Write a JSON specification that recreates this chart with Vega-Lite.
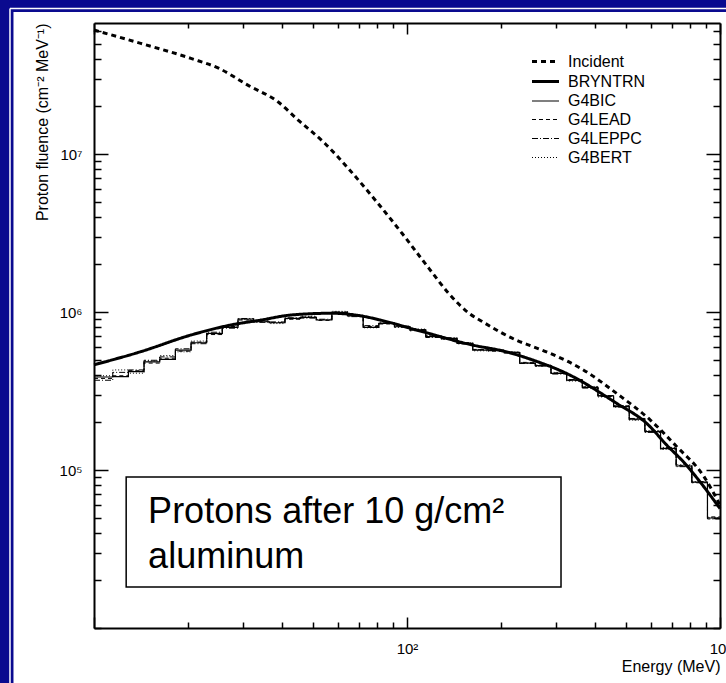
{
  "$schema": "https://vega.github.io/schema/vega-lite/v6.json",
  "width": 626,
  "height": 605,
  "autosize": {"type": "none"},
  "padding": {"left": 94, "top": 23, "right": 6, "bottom": 55},
  "background": "#0a0a8f",
  "datasets": {
    "smooth": [
      {"series": "Incident", "E": 10, "F": 60900000},
      {"series": "Incident", "E": 14.1, "F": 50200000},
      {"series": "Incident", "E": 20.4, "F": 40300000},
      {"series": "Incident", "E": 25.1, "F": 34800000},
      {"series": "Incident", "E": 31, "F": 27300000},
      {"series": "Incident", "E": 38.7, "F": 21400000},
      {"series": "Incident", "E": 44.9, "F": 16400000},
      {"series": "Incident", "E": 54.6, "F": 11700000},
      {"series": "Incident", "E": 64.9, "F": 8110000},
      {"series": "Incident", "E": 79.1, "F": 5120000},
      {"series": "Incident", "E": 96.4, "F": 3150000},
      {"series": "Incident", "E": 117.5, "F": 1890000},
      {"series": "Incident", "E": 136, "F": 1310000},
      {"series": "Incident", "E": 158, "F": 980000},
      {"series": "Incident", "E": 174, "F": 870000},
      {"series": "Incident", "E": 223, "F": 665000},
      {"series": "Incident", "E": 252, "F": 605000},
      {"series": "Incident", "E": 286, "F": 548000},
      {"series": "Incident", "E": 366, "F": 430000},
      {"series": "Incident", "E": 468, "F": 305000},
      {"series": "Incident", "E": 599, "F": 207000},
      {"series": "Incident", "E": 729, "F": 140000},
      {"series": "Incident", "E": 889, "F": 90800},
      {"series": "Incident", "E": 1000, "F": 60000},
      {"series": "BRYNTRN", "E": 10, "F": 463000},
      {"series": "BRYNTRN", "E": 14.1, "F": 561000},
      {"series": "BRYNTRN", "E": 20.4, "F": 715000},
      {"series": "BRYNTRN", "E": 27.3, "F": 827000},
      {"series": "BRYNTRN", "E": 34.2, "F": 890000},
      {"series": "BRYNTRN", "E": 42.7, "F": 958000},
      {"series": "BRYNTRN", "E": 57.4, "F": 982000},
      {"series": "BRYNTRN", "E": 71.6, "F": 944000},
      {"series": "BRYNTRN", "E": 83, "F": 885000},
      {"series": "BRYNTRN", "E": 106, "F": 775000},
      {"series": "BRYNTRN", "E": 162, "F": 618000},
      {"series": "BRYNTRN", "E": 207, "F": 561000},
      {"series": "BRYNTRN", "E": 252, "F": 497000},
      {"series": "BRYNTRN", "E": 323, "F": 409000},
      {"series": "BRYNTRN", "E": 468, "F": 264000},
      {"series": "BRYNTRN", "E": 582, "F": 198000},
      {"series": "BRYNTRN", "E": 680, "F": 142000},
      {"series": "BRYNTRN", "E": 766, "F": 112000},
      {"series": "BRYNTRN", "E": 860, "F": 85000},
      {"series": "BRYNTRN", "E": 1000, "F": 57000}
    ],
    "hist": [
      {"E": 10, "G4BIC": 388000, "G4LEAD": 380000, "G4LEPPC": 370000, "G4BERT": 395000},
      {"E": 11.48, "G4BIC": 390000, "G4LEAD": 395000, "G4LEPPC": 415000, "G4BERT": 430000},
      {"E": 12.88, "G4BIC": 419000, "G4LEAD": 425000, "G4LEPPC": 430000, "G4BERT": 410000},
      {"E": 14.45, "G4BIC": 484000, "G4LEAD": 475000, "G4LEPPC": 495000, "G4BERT": 490000},
      {"E": 16.22, "G4BIC": 502000, "G4LEAD": 510000, "G4LEPPC": 520000, "G4BERT": 530000},
      {"E": 18.2, "G4BIC": 574000, "G4LEAD": 565000, "G4LEPPC": 585000, "G4BERT": 560000},
      {"E": 20.42, "G4BIC": 639000, "G4LEAD": 645000, "G4LEPPC": 630000, "G4BERT": 655000},
      {"E": 22.91, "G4BIC": 733000, "G4LEAD": 720000, "G4LEPPC": 745000, "G4BERT": 725000},
      {"E": 25.7, "G4BIC": 800000, "G4LEAD": 810000, "G4LEPPC": 790000, "G4BERT": 815000},
      {"E": 28.84, "G4BIC": 903000, "G4LEAD": 890000, "G4LEPPC": 910000, "G4BERT": 895000},
      {"E": 32.36, "G4BIC": 868000, "G4LEAD": 875000, "G4LEPPC": 860000, "G4BERT": 880000},
      {"E": 36.31, "G4BIC": 855000, "G4LEAD": 860000, "G4LEPPC": 865000, "G4BERT": 845000},
      {"E": 40.74, "G4BIC": 912000, "G4LEAD": 900000, "G4LEPPC": 920000, "G4BERT": 905000},
      {"E": 45.71, "G4BIC": 925000, "G4LEAD": 930000, "G4LEPPC": 915000, "G4BERT": 940000},
      {"E": 51.29, "G4BIC": 890000, "G4LEAD": 885000, "G4LEPPC": 900000, "G4BERT": 895000},
      {"E": 57.54, "G4BIC": 995000, "G4LEAD": 985000, "G4LEPPC": 1000000, "G4BERT": 1010000},
      {"E": 64.57, "G4BIC": 944000, "G4LEAD": 950000, "G4LEPPC": 935000, "G4BERT": 955000},
      {"E": 72.44, "G4BIC": 800000, "G4LEAD": 810000, "G4LEPPC": 820000, "G4BERT": 795000},
      {"E": 81.28, "G4BIC": 848000, "G4LEAD": 840000, "G4LEPPC": 855000, "G4BERT": 860000},
      {"E": 91.2, "G4BIC": 807000, "G4LEAD": 815000, "G4LEPPC": 800000, "G4BERT": 810000},
      {"E": 102.3, "G4BIC": 769000, "G4LEAD": 760000, "G4LEPPC": 775000, "G4BERT": 780000},
      {"E": 114.8, "G4BIC": 698000, "G4LEAD": 705000, "G4LEPPC": 690000, "G4BERT": 710000},
      {"E": 128.8, "G4BIC": 682000, "G4LEAD": 675000, "G4LEPPC": 688000, "G4BERT": 670000},
      {"E": 144.5, "G4BIC": 634000, "G4LEAD": 640000, "G4LEPPC": 628000, "G4BERT": 638000},
      {"E": 162.2, "G4BIC": 574000, "G4LEAD": 580000, "G4LEPPC": 578000, "G4BERT": 568000},
      {"E": 182, "G4BIC": 570000, "G4LEAD": 565000, "G4LEPPC": 575000, "G4BERT": 572000},
      {"E": 204.2, "G4BIC": 554000, "G4LEAD": 550000, "G4LEPPC": 558000, "G4BERT": 562000},
      {"E": 229.1, "G4BIC": 475000, "G4LEAD": 480000, "G4LEPPC": 472000, "G4BERT": 478000},
      {"E": 257, "G4BIC": 458000, "G4LEAD": 455000, "G4LEPPC": 462000, "G4BERT": 452000},
      {"E": 288.4, "G4BIC": 409000, "G4LEAD": 412000, "G4LEPPC": 405000, "G4BERT": 415000},
      {"E": 323.6, "G4BIC": 371000, "G4LEAD": 368000, "G4LEPPC": 374000, "G4BERT": 366000},
      {"E": 363.1, "G4BIC": 333000, "G4LEAD": 335000, "G4LEPPC": 330000, "G4BERT": 338000},
      {"E": 407.4, "G4BIC": 294000, "G4LEAD": 292000, "G4LEPPC": 296000, "G4BERT": 290000},
      {"E": 457.1, "G4BIC": 252000, "G4LEAD": 255000, "G4LEPPC": 250000, "G4BERT": 256000},
      {"E": 512.9, "G4BIC": 210000, "G4LEAD": 208000, "G4LEPPC": 212000, "G4BERT": 207000},
      {"E": 575.4, "G4BIC": 175000, "G4LEAD": 176000, "G4LEPPC": 173000, "G4BERT": 178000},
      {"E": 645.7, "G4BIC": 137000, "G4LEAD": 136000, "G4LEPPC": 139000, "G4BERT": 135000},
      {"E": 724.4, "G4BIC": 106000, "G4LEAD": 107000, "G4LEPPC": 105000, "G4BERT": 108000},
      {"E": 812.8, "G4BIC": 83900, "G4LEAD": 83000, "G4LEPPC": 84500, "G4BERT": 83500},
      {"E": 912, "G4BIC": 49700, "G4LEAD": 50500, "G4LEPPC": 49000, "G4BERT": 50000},
      {"E": 1000, "G4BIC": 49700, "G4LEAD": 50500, "G4LEPPC": 49000, "G4BERT": 50000}
    ]
  },
  "resolve": {"axis": {"x": "independent", "y": "independent"}},
  "layer": [
    {
      "data": {"values": [{}]},
      "mark": {"type": "rect", "fill": "white", "strokeWidth": 0},
      "encoding": {
        "x": {"datum": 5.53, "type": "quantitative", "scale": {"type": "log", "domain": [10, 1000], "nice": false}, "axis": null},
        "x2": {"datum": 3000},
        "y": {"datum": 79300000, "type": "quantitative", "scale": {"type": "log", "domain": [10000, 67500000], "nice": false}, "axis": null},
        "y2": {"datum": 1000}
      }
    },
    {
      "data": {"values": [{}]},
      "mark": {"type": "rule", "color": "white", "strokeWidth": 1.5},
      "encoding": {
        "x": {"datum": 5.39, "type": "quantitative", "scale": {"type": "log", "domain": [10, 1000], "nice": false}, "axis": null},
        "y": {"datum": 83400000, "type": "quantitative", "scale": {"type": "log", "domain": [10000, 67500000], "nice": false}, "axis": null},
        "y2": {"datum": 1000}
      }
    },
    {
      "data": {"values": [{}]},
      "mark": {"type": "rule", "color": "white", "strokeWidth": 1.5},
      "encoding": {
        "x": {"datum": 5.39, "type": "quantitative", "scale": {"type": "log", "domain": [10, 1000], "nice": false}, "axis": null},
        "x2": {"datum": 3000},
        "y": {"datum": 83400000, "type": "quantitative", "scale": {"type": "log", "domain": [10000, 67500000], "nice": false}, "axis": null}
      }
    },
    {
      "data": {"values": [{}]},
      "mark": {"type": "rect", "fill": "white", "stroke": "black", "strokeWidth": 1.5},
      "encoding": {
        "x": {"datum": 12.67, "type": "quantitative", "scale": {"type": "log", "domain": [10, 1000], "nice": false}, "axis": null},
        "x2": {"datum": 310.5},
        "y": {"datum": 90400, "type": "quantitative", "scale": {"type": "log", "domain": [10000, 67500000], "nice": false}, "axis": null},
        "y2": {"datum": 18200}
      }
    },
    {
      "data": {"values": [{"label": ["Protons after 10 g/cm²", "aluminum"]}]},
      "mark": {"type": "text", "align": "left", "baseline": "alphabetic", "fontSize": 36, "lineHeight": 45, "color": "black", "font": "Liberation Sans"},
      "encoding": {
        "x": {"datum": 14.89, "type": "quantitative", "scale": {"type": "log", "domain": [10, 1000], "nice": false}, "axis": null},
        "y": {"datum": 46200, "type": "quantitative", "scale": {"type": "log", "domain": [10000, 67500000], "nice": false}, "axis": null},
        "text": {"field": "label"}
      }
    },
    {
      "data": {"name": "hist"},
      "transform": [{"fold": ["G4BIC", "G4LEAD", "G4LEPPC", "G4BERT"], "as": ["series", "F"]}],
      "mark": {"type": "line", "interpolate": "step-after", "color": "black"},
      "encoding": {
        "x": {
          "field": "E", "type": "quantitative",
          "scale": {"type": "log", "domain": [10, 1000], "nice": false},
          "axis": {
            "orient": "top", "labels": false, "title": null, "zindex": 2,
            "values": [10, 20, 30, 40, 50, 60, 70, 80, 90, 100, 200, 300, 400, 500, 600, 700, 800, 900, 1000],
            "tickSize": {"condition": {"test": "datum.value == 10 || datum.value == 100 || datum.value == 1000", "value": -11}, "value": -5}
          }
        },
        "y": {
          "field": "F", "type": "quantitative",
          "scale": {"type": "log", "domain": [10000, 67500000], "nice": false},
          "axis": {
            "orient": "right", "labels": false, "title": null, "zindex": 2,
            "values": [10000, 20000, 30000, 40000, 50000, 60000, 70000, 80000, 90000, 100000, 200000, 300000, 400000, 500000, 600000, 700000, 800000, 900000, 1000000, 2000000, 3000000, 4000000, 5000000, 6000000, 7000000, 8000000, 9000000, 10000000, 20000000, 30000000, 40000000, 50000000, 60000000],
            "tickSize": {"condition": {"test": "datum.value == 100000 || datum.value == 1000000 || datum.value == 10000000", "value": -14}, "value": -7}
          }
        },
        "strokeDash": {
          "field": "series", "type": "nominal",
          "scale": {"domain": ["Incident", "BRYNTRN", "G4BIC", "G4LEAD", "G4LEPPC", "G4BERT"], "range": [[5, 4], [1, 0], [1, 0], [4, 3], [6, 2, 1, 2], [1, 2]]},
          "legend": {"title": null, "orient": "none", "legendX": 440, "legendY": 27, "symbolType": "M-1.35,0H1.35", "symbolSize": 400}
        },
        "strokeWidth": {
          "field": "series", "type": "nominal",
          "scale": {"type": "ordinal", "domain": ["Incident", "BRYNTRN", "G4BIC", "G4LEAD", "G4LEPPC", "G4BERT"], "range": [3, 3, 1.2, 1, 1, 1]},
          "legend": {"title": null, "orient": "none", "legendX": 440, "legendY": 27, "symbolType": "M-1.35,0H1.35", "symbolSize": 400}
        }
      }
    },
    {
      "data": {"name": "smooth"},
      "mark": {"type": "line", "interpolate": "monotone", "color": "black"},
      "encoding": {
        "x": {
          "field": "E", "type": "quantitative",
          "scale": {"type": "log", "domain": [10, 1000], "nice": false},
          "axis": {
            "orient": "bottom", "zindex": 2,
            "values": [10, 20, 30, 40, 50, 60, 70, 80, 90, 100, 200, 300, 400, 500, 600, 700, 800, 900, 1000],
            "labelExpr": "datum.value == 100 ? '10²' : datum.value == 1000 ? '10³' : ''",
            "tickSize": {"condition": {"test": "datum.value == 10 || datum.value == 100 || datum.value == 1000", "value": -11}, "value": -6},
            "labelPadding": 24,
            "title": "Energy (MeV)",
            "titleAnchor": "end",
            "titlePadding": -3
          }
        },
        "y": {
          "field": "F", "type": "quantitative",
          "scale": {"type": "log", "domain": [10000, 67500000], "nice": false},
          "axis": {
            "orient": "left", "zindex": 2,
            "values": [10000, 20000, 30000, 40000, 50000, 60000, 70000, 80000, 90000, 100000, 200000, 300000, 400000, 500000, 600000, 700000, 800000, 900000, 1000000, 2000000, 3000000, 4000000, 5000000, 6000000, 7000000, 8000000, 9000000, 10000000, 20000000, 30000000, 40000000, 50000000, 60000000],
            "labelExpr": "datum.value == 100000 ? '10⁵' : datum.value == 1000000 ? '10⁶' : datum.value == 10000000 ? '10⁷' : ''",
            "tickSize": {"condition": {"test": "datum.value == 100000 || datum.value == 1000000 || datum.value == 10000000", "value": -14}, "value": -7},
            "labelPadding": 26,
            "title": "Proton fluence (cm⁻² MeV⁻¹)",
            "titleAnchor": "end",
            "titlePadding": 9
          }
        },
        "strokeDash": {
          "field": "series", "type": "nominal",
          "scale": {"domain": ["Incident", "BRYNTRN", "G4BIC", "G4LEAD", "G4LEPPC", "G4BERT"], "range": [[5, 4], [1, 0], [1, 0], [4, 3], [6, 2, 1, 2], [1, 2]]},
          "legend": {"title": null, "orient": "none", "legendX": 440, "legendY": 27, "symbolType": "M-1.35,0H1.35", "symbolSize": 400}
        },
        "strokeWidth": {
          "field": "series", "type": "nominal",
          "scale": {"type": "ordinal", "domain": ["Incident", "BRYNTRN", "G4BIC", "G4LEAD", "G4LEPPC", "G4BERT"], "range": [3, 3, 1.2, 1, 1, 1]},
          "legend": {"title": null, "orient": "none", "legendX": 440, "legendY": 27, "symbolType": "M-1.35,0H1.35", "symbolSize": 400}
        }
      }
    }
  ],
  "config": {
    "font": "Liberation Sans",
    "view": {"stroke": null},
    "axis": {
      "zindex": 2,
      "grid": false,
      "domainColor": "black",
      "domainWidth": 2,
      "tickColor": "black",
      "tickWidth": 1.5,
      "labelColor": "black",
      "labelFontSize": 15,
      "labelFont": "Liberation Sans",
      "labelOverlap": false,
      "labelBound": false,
      "labelFlush": false,
      "titleColor": "black",
      "titleFont": "Liberation Sans",
      "titleFontSize": 16,
      "titleFontWeight": "normal"
    },
    "legend": {
      "labelFont": "Liberation Sans",
      "labelFontSize": 16,
      "labelColor": "black",
      "labelOffset": 11,
      "rowPadding": 0,
      "padding": 0,
      "symbolStrokeColor": "black",
      "symbolFillColor": "transparent"
    }
  }
}
